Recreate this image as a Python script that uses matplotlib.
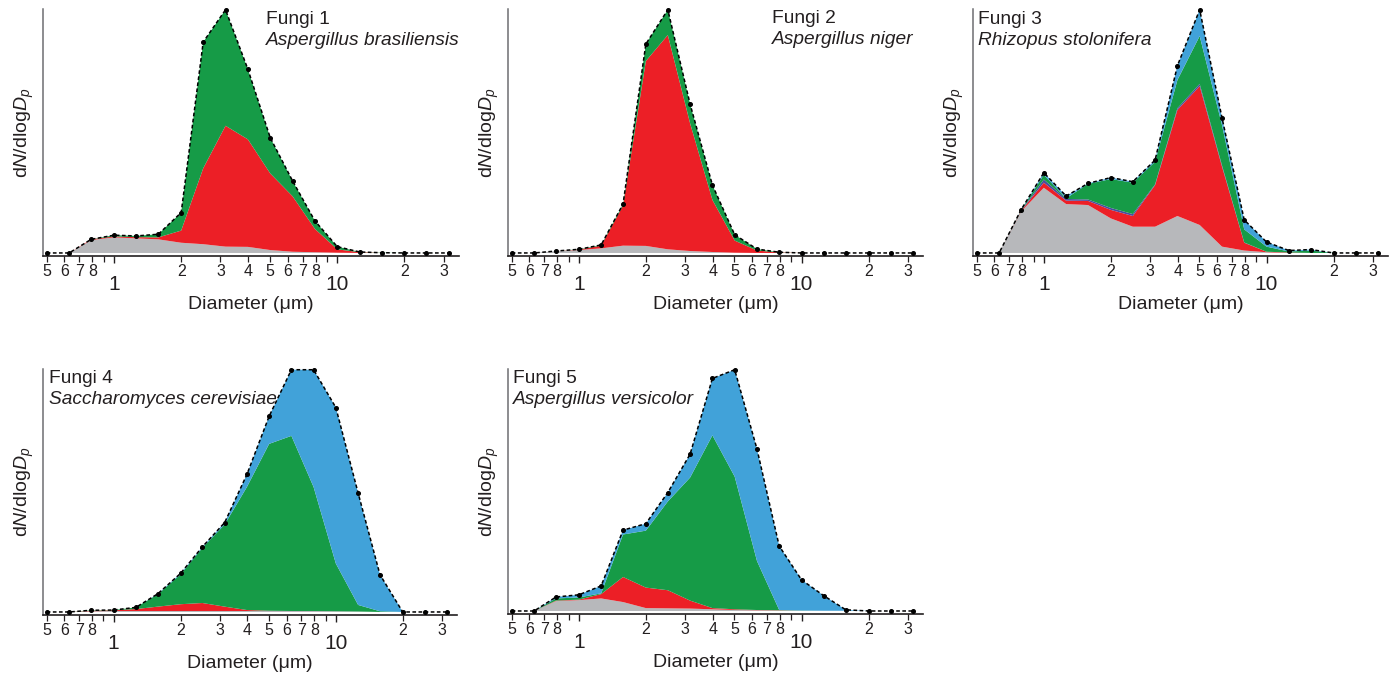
import numpy as np
import matplotlib
matplotlib.use("Agg")
import matplotlib.pyplot as plt
from matplotlib.ticker import FixedLocator, FixedFormatter

plt.rcParams['font.family'] = ['Liberation Sans', 'DejaVu Sans']
plt.rcParams['mathtext.fontset'] = 'custom'
plt.rcParams['mathtext.rm'] = 'Liberation Sans'
plt.rcParams['mathtext.it'] = 'Liberation Sans:italic'

# Particle diameters (um)
diameters = [0.5, 0.63, 0.79, 1.0, 1.26, 1.58, 2.0, 2.51, 3.16, 3.98, 5.01,
             6.31, 7.94, 10.0, 12.6, 15.8, 20.0, 25.1, 31.6]

titles = ["Fungi 1", "Fungi 2", "Fungi 3", "Fungi 4", "Fungi 5"]
species = ["Aspergillus brasiliensis", "Aspergillus niger", "Rhizopus stolonifera",
           "Saccharomyces cerevisiae", "Aspergillus versicolor"]

# Component values (relative dN/dlogDp), stacked: gray, red, purple, green, blue
f1_gray   = [0, 0, 5.3, 6.4, 6.0, 5.6, 4.2, 3.6, 2.6, 2.5, 1.2, 0.5, 0.3, 0.1, 0, 0, 0, 0, 0]
f1_red    = [0, 0, 0.3, 0.4, 0.5, 0.8, 5.0, 31.2, 49.7, 44.2, 31.5, 22.8, 9.6, 1.4, 0.3, 0, 0, 0, 0]
f1_purple = [0] * 19
f1_green  = [0, 0, 0, 0.5, 0.5, 1.3, 7.4, 51.9, 47.7, 28.8, 14.7, 6.3, 3.3, 1.1, 0.1, 0.1, 0, 0, 0]
f1_blue   = [0] * 19

f2_gray   = [0, 0, 0.8, 1.2, 1.9, 3.0, 2.9, 1.5, 0.8, 0.4, 0.1, 0, 0, 0, 0, 0, 0, 0, 0]
f2_red    = [0, 0, 0, 0.2, 1.1, 16.5, 76.0, 88.1, 52.5, 21.4, 5.0, 1.0, 0.2, 0, 0, 0, 0, 0, 0]
f2_purple = [0] * 19
f2_green  = [0, 0, 0, 0.1, 0.3, 0.6, 7.0, 10.4, 7.9, 6.1, 2.4, 0.6, 0.1, 0, 0, 0, 0, 0, 0]
f2_blue   = [0] * 19

f3_gray   = [0, 0, 17.0, 26.8, 20.1, 19.7, 14.2, 10.8, 10.8, 15.2, 11.5, 2.6, 1.0, 0.3, 0, 0, 0, 0, 0]
f3_red    = [0, 0, 0.3, 2.1, 1.4, 1.7, 3.5, 4.4, 17.1, 43.6, 57.1, 32.9, 3.2, 0.2, 0.2, 0, 0, 0, 0]
f3_purple = [0, 0, 0.1, 1.3, 0.7, 0.6, 0.8, 0.8, 0.3, 0.7, 0.9, 0.5, 0.1, 0, 0, 0, 0, 0, 0]
f3_green  = [0, 0, 0.2, 1.9, 0.3, 6.4, 11.9, 12.9, 9.3, 11.6, 19.7, 16.6, 5.4, 2.1, 0.4, 1.0, 0, 0, 0]
f3_blue   = [0, 0, 0.1, 0.9, 0.9, 0.2, 0.6, 0.4, 0.7, 5.9, 10.8, 3.0, 3.9, 1.9, 0.4, 0.4, 0, 0, 0]

f4_gray   = [0, 0, 0.3, 0.4, 0.4, 0.4, 0.4, 0.4, 0.4, 0.4, 0.4, 0.4, 0.4, 0.3, 0.2, 0, 0, 0, 0]
f4_red    = [0, 0, 0.2, 0.3, 0.8, 1.8, 2.8, 3.3, 1.8, 0.4, 0.1, 0, 0, 0, 0, 0, 0, 0, 0]
f4_purple = [0] * 19
f4_green  = [0, 0, 0.2, 0.1, 0.7, 5.1, 12.3, 22.8, 33.9, 50.8, 68.9, 72.3, 51.2, 19.7, 2.7, 0.3, 0, 0, 0]
f4_blue   = [0, 0, 0, 0, 0, 0.2, 0.4, 0.4, 0.8, 5.2, 11.4, 27.3, 48.4, 64.4, 46.2, 15.1, 0, 0, 0]

f5_gray   = [0, 0, 4.1, 4.5, 5.2, 3.7, 1.2, 1.1, 1.0, 0.7, 0.4, 0.3, 0.2, 0.1, 0.1, 0.1, 0, 0, 0]
f5_red    = [0, 0, 0.2, 0.2, 1.8, 10.4, 8.5, 7.5, 3.3, 0.5, 0.3, 0.1, 0.1, 0, 0, 0, 0, 0, 0]
f5_purple = [0] * 19
f5_green  = [0, 0, 0.9, 0.9, 0.3, 17.6, 23.6, 36.8, 51.0, 71.6, 55.0, 20.3, 0.1, 0.1, 0, 0, 0, 0, 0]
f5_blue   = [0, 0, 0.6, 1.1, 3.1, 1.8, 2.9, 3.7, 9.7, 23.6, 44.3, 46.4, 26.5, 12.7, 6.2, 0.4, 0, 0, 0]

panels = [
    (f1_gray, f1_red, f1_purple, f1_green, f1_blue),
    (f2_gray, f2_red, f2_purple, f2_green, f2_blue),
    (f3_gray, f3_red, f3_purple, f3_green, f3_blue),
    (f4_gray, f4_red, f4_purple, f4_green, f4_blue),
    (f5_gray, f5_red, f5_purple, f5_green, f5_blue),
]

colors = ['#B7B8BB', '#EC1F26', '#4A4C9E', '#169B47', '#41A2D9']
txt = '#231F20'

W, H = 1393, 683
fig = plt.figure(figsize=(W / 100, H / 100), dpi=100)

# axes boxes in pixels: left, right, top, bottom
boxes = [(43, 459, 9, 256), (508, 923, 9, 256), (973, 1388, 9, 256),
         (43, 457, 369, 615), (508, 923, 369, 614)]
# title anchor (x px, baseline1 px, baseline2 px)
title_pos = [(266, 24, 45), (772, 23, 44), (978, 24, 45), (49, 383, 404), (513, 383, 404)]

minor_ticks = [0.5, 0.6, 0.7, 0.8, 0.9, 2, 3, 4, 5, 6, 7, 8, 9, 20, 30]
minor_labels = ['5', '6', '7', '8', '', '2', '3', '4', '5', '6', '7', '8', '', '2', '3']
major_ticks = [1, 10]
major_labels = ['1', '10']

for i, (layers, box) in enumerate(zip(panels, boxes)):
    l, r, t, b = box
    ax = fig.add_axes([l / W, 1 - b / H, (r - l) / W, (b - t) / H])
    ax.stackplot(diameters, *layers, colors=colors, linewidth=0,
                 edgecolor='none', zorder=1)
    total = np.sum(np.array(layers, dtype=float), axis=0)
    ax.plot(diameters, total, color='black', ls=(0, (2.4, 1.6)), lw=1.1,
            marker='o', ms=2.6, zorder=5, clip_on=False)
    ax.set_xscale('log')
    ax.set_xlim(0.481, 35.1)
    ax.set_ylim(-1.25, 100.3)

    for s in ['top', 'right']:
        ax.spines[s].set_visible(False)
    ax.spines['left'].set_color('#6D6E71')
    ax.spines['left'].set_linewidth(1.1)
    ax.spines['bottom'].set_color('#231F20')
    ax.spines['bottom'].set_linewidth(1.2)
    ax.set_yticks([])

    ax.xaxis.set_major_locator(FixedLocator(major_ticks))
    ax.xaxis.set_major_formatter(FixedFormatter(major_labels))
    ax.xaxis.set_minor_locator(FixedLocator(minor_ticks))
    ax.xaxis.set_minor_formatter(FixedFormatter(minor_labels))
    ax.tick_params(axis='x', which='major', direction='out', length=5, width=1.0,
                   color='#231F20', labelsize=15, pad=9, labelcolor=txt)
    ax.tick_params(axis='x', which='minor', direction='out', length=4, width=0.9,
                   color='#231F20', labelsize=11.5, pad=2, labelcolor=txt)

    ax.set_xlabel('Diameter (μm)', fontsize=14, color=txt)
    ax.xaxis.set_label_coords(0.5, -40.0 / (b - t))
    ax.set_ylabel(r'd$\mathit{N}$/dlog$\mathit{D}_{\mathit{p}}$', fontsize=14,
                  color=txt, labelpad=5)

    tx, b1, b2 = title_pos[i]
    ax.text((tx - l) / (r - l), (b - b1) / (b - t), titles[i], transform=ax.transAxes,
            fontsize=13.8, color=txt, va='baseline', ha='left', zorder=10)
    ax.text((tx - l) / (r - l), (b - b2) / (b - t), species[i], transform=ax.transAxes,
            fontsize=13.8, color=txt, va='baseline', ha='left', style='italic', zorder=10)

fig.savefig('out.png', dpi=100)
